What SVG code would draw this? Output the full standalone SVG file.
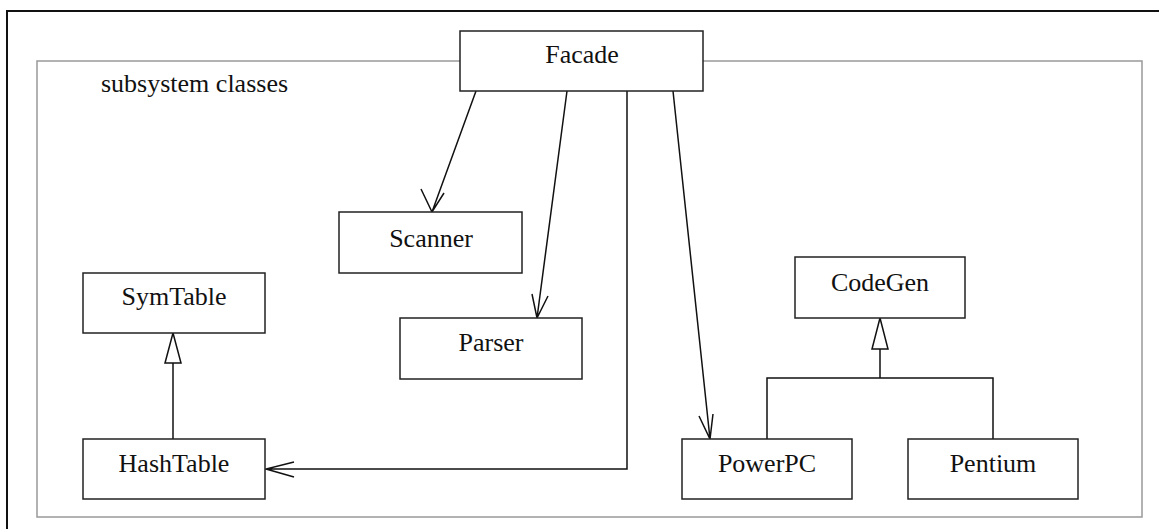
<svg xmlns="http://www.w3.org/2000/svg" width="1159" height="529" viewBox="0 0 1159 529">
<style>
.box{fill:#fff;stroke:#222;stroke-width:1.5}
.lbl{font-family:"Liberation Serif","Times New Roman",serif;font-size:26px;fill:#111;text-anchor:middle}
.ln{fill:none;stroke:#111;stroke-width:1.5}
.tri{fill:#fff;stroke:#111;stroke-width:1.5}
</style>
<rect x="0" y="0" width="1159" height="529" fill="#fff"/>
<rect x="7" y="11" width="1180" height="560" fill="none" stroke="#111" stroke-width="2"/>
<g id="subsystem">
<rect x="37" y="61" width="1105" height="456" fill="none" stroke="#999" stroke-width="1.5"/>
<text x="101" y="92" style="font-family:'Liberation Serif','Times New Roman',serif;font-size:26px;fill:#111">subsystem classes</text>
</g>
<g id="connectors">
<path class="ln" d="M476,91 L432,212 M421,189 L432,212 L444,193"/>
<path class="ln" d="M567,91 L537,318 M532,294 L537,318 L548,296"/>
<path class="ln" d="M627,91 L627,469 L266,469 M294,462 L266,469 L294,477"/>
<path class="ln" d="M673,91 L710,439 M699,416 L710,439 L713,414"/>
<path class="ln" d="M173,439 L173,363"/>
<path class="tri" d="M173,333 L181,363 L165,363 Z"/>
<path class="ln" d="M767,439 L767,378 L993,378 L993,439 M880,378 L880,349"/>
<path class="tri" d="M880,318 L888,349 L872,349 Z"/>
</g>
<g id="Facade"><rect class="box" x="460" y="31" width="243" height="60"/><text class="lbl" x="582" y="63">Facade</text></g>
<g id="Scanner"><rect class="box" x="339" y="212" width="183" height="61"/><text class="lbl" x="431" y="247">Scanner</text></g>
<g id="Parser"><rect class="box" x="400" y="318" width="182" height="61"/><text class="lbl" x="491" y="351">Parser</text></g>
<g id="SymTable"><rect class="box" x="83" y="273" width="182" height="60"/><text class="lbl" x="174" y="305">SymTable</text></g>
<g id="HashTable"><rect class="box" x="83" y="439" width="182" height="60"/><text class="lbl" x="174" y="472">HashTable</text></g>
<g id="CodeGen"><rect class="box" x="795" y="257" width="170" height="61"/><text class="lbl" x="880" y="291">CodeGen</text></g>
<g id="PowerPC"><rect class="box" x="682" y="439" width="170" height="60"/><text class="lbl" x="767" y="472">PowerPC</text></g>
<g id="Pentium"><rect class="box" x="908" y="439" width="170" height="60"/><text class="lbl" x="993" y="472">Pentium</text></g>
</svg>
